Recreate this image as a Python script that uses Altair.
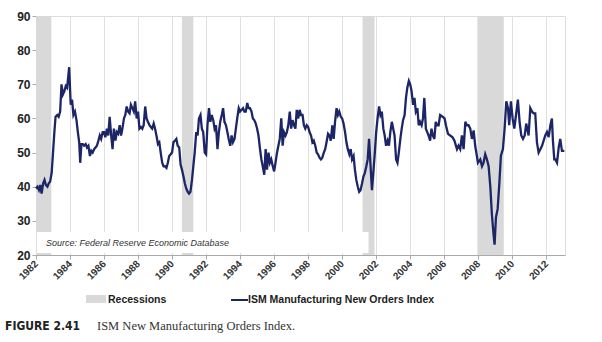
import altair as alt
import pandas as pd

# ISM Manufacturing New Orders Index (decimal years)
t = [1982.00, 1982.08, 1982.17, 1982.25, 1982.33, 1982.42, 1982.50, 1982.58, 1982.67, 1982.75,
     1982.83, 1982.92, 1983.00, 1983.08, 1983.15, 1983.25, 1983.33, 1983.42, 1983.50, 1983.58,
     1983.67, 1983.75, 1983.83, 1983.95, 1984.04, 1984.12, 1984.20, 1984.29, 1984.38, 1984.46,
     1984.54, 1984.60, 1984.67, 1984.75, 1984.83, 1984.92, 1985.00, 1985.08, 1985.17, 1985.25,
     1985.33, 1985.42, 1985.50, 1985.58, 1985.67, 1985.75, 1985.83, 1985.92, 1986.00, 1986.08,
     1986.17, 1986.25, 1986.33, 1986.42, 1986.50, 1986.58, 1986.67, 1986.75, 1986.83, 1986.92,
     1987.00, 1987.08, 1987.17, 1987.25, 1987.33, 1987.42, 1987.50, 1987.58, 1987.67, 1987.75,
     1987.83, 1987.92, 1988.00, 1988.08, 1988.17, 1988.25, 1988.33, 1988.42, 1988.50, 1988.58,
     1988.67, 1988.75, 1988.83, 1988.92, 1989.00, 1989.08, 1989.17, 1989.25, 1989.33, 1989.42,
     1989.50, 1989.58, 1989.67, 1989.75, 1989.83, 1989.92, 1990.00, 1990.08, 1990.17, 1990.25,
     1990.33, 1990.42, 1990.50, 1990.58, 1990.67, 1990.75, 1990.83, 1990.92, 1991.00, 1991.08,
     1991.17, 1991.25, 1991.33, 1991.42, 1991.50, 1991.58, 1991.67, 1991.75, 1991.83, 1991.92,
     1992.00, 1992.08, 1992.17, 1992.25, 1992.33, 1992.42, 1992.50, 1992.58, 1992.67, 1992.75,
     1992.83, 1992.92, 1993.00, 1993.08, 1993.17, 1993.25, 1993.33, 1993.42, 1993.50, 1993.58,
     1993.67, 1993.75, 1993.83, 1993.92, 1994.00, 1994.08, 1994.17, 1994.25, 1994.33, 1994.42,
     1994.50, 1994.58, 1994.67, 1994.75, 1994.83, 1994.92, 1995.00, 1995.08, 1995.17, 1995.25,
     1995.33, 1995.42, 1995.50, 1995.58, 1995.67, 1995.75, 1995.83, 1995.92, 1996.00, 1996.08,
     1996.17, 1996.25, 1996.33, 1996.42, 1996.50, 1996.58, 1996.67, 1996.75, 1996.83, 1996.92,
     1997.00, 1997.08, 1997.17, 1997.25, 1997.33, 1997.42, 1997.50, 1997.58, 1997.67, 1997.75,
     1997.83, 1997.92, 1998.00, 1998.08, 1998.17, 1998.25, 1998.33, 1998.42, 1998.50, 1998.58,
     1998.67, 1998.75, 1998.83, 1998.92, 1999.00, 1999.08, 1999.17, 1999.25, 1999.33, 1999.42,
     1999.50, 1999.58, 1999.67, 1999.75, 1999.83, 1999.92, 2000.00, 2000.08, 2000.17, 2000.25,
     2000.33, 2000.42, 2000.50, 2000.58, 2000.67, 2000.75, 2000.83, 2000.92, 2001.00, 2001.08,
     2001.17, 2001.25, 2001.33, 2001.42, 2001.50, 2001.58, 2001.67, 2001.75, 2001.83, 2001.92,
     2002.00, 2002.08, 2002.17, 2002.25, 2002.33, 2002.42, 2002.50, 2002.58, 2002.67, 2002.75,
     2002.83, 2002.92, 2003.00, 2003.08, 2003.17, 2003.25, 2003.33, 2003.42, 2003.50, 2003.58,
     2003.67, 2003.75, 2003.83, 2003.92, 2004.00, 2004.08, 2004.17, 2004.25, 2004.33, 2004.42,
     2004.50, 2004.58, 2004.67, 2004.75, 2004.83, 2004.92, 2005.00, 2005.08, 2005.17, 2005.25,
     2005.33, 2005.42, 2005.50, 2005.58, 2005.67, 2005.76, 2005.90, 2006.02, 2006.10, 2006.22,
     2006.35, 2006.49, 2006.60, 2006.75, 2006.84, 2006.94, 2007.04, 2007.14, 2007.24, 2007.33,
     2007.43, 2007.53, 2007.63, 2007.73, 2007.82, 2007.92, 2007.98, 2008.12, 2008.22, 2008.31,
     2008.41, 2008.51, 2008.61, 2008.71, 2008.80, 2008.90, 2008.96, 2009.04, 2009.14, 2009.24,
     2009.33, 2009.45, 2009.55, 2009.65, 2009.75, 2009.82, 2009.92, 2010.02, 2010.12, 2010.22,
     2010.33, 2010.43, 2010.53, 2010.63, 2010.73, 2010.82, 2010.96, 2011.06, 2011.16, 2011.25,
     2011.35, 2011.45, 2011.55, 2011.65, 2011.75, 2011.94, 2012.04, 2012.14, 2012.24, 2012.33,
     2012.39, 2012.47, 2012.53, 2012.63, 2012.73, 2012.82, 2012.92, 2013.06]
v = [39.5, 40, 39, 40.5, 38, 41, 42, 40.5, 40, 41,
     41.5, 44, 50, 56, 60.5, 61, 60.5, 62, 70, 67,
     68, 69.5, 69, 75, 64, 65.5, 61, 62, 59.5, 56,
     53, 47, 52.5, 52.5, 52, 52.5, 51.5, 52, 49, 50.5,
     50, 51, 51.5, 52, 53.5, 55, 54, 56, 56, 54.5,
     57, 55, 60.5, 55, 51, 57, 53.5, 56, 55.5, 58,
     55, 57, 60, 61, 63.5, 62, 61.5, 64, 63, 62,
     65, 60, 62, 57, 57.5, 57, 58, 63.5, 60, 59,
     58, 57.5, 57, 58.5, 57, 55, 52.5, 53, 50, 47,
     46, 46, 45.5, 47, 49, 49.5, 50, 53, 53.5, 54,
     52, 51.5, 46.5, 45, 43, 41, 39.5, 38.5, 38, 38.5,
     42, 46, 50, 56, 55, 60, 61, 57, 56, 50,
     49.5, 58, 63, 59, 61, 59.5, 57, 58, 51, 56,
     59, 61, 63, 59, 58, 56, 54, 52, 55, 53,
     54, 57, 60, 63, 62, 62.5, 63, 62, 62, 64.5,
     63, 63, 62, 60, 59.5, 58.5, 57, 55, 51, 48,
     46, 43.5, 51, 45, 50, 47, 48, 46, 44.5, 47,
     50, 52, 54, 60, 52, 56, 55, 56, 58, 62,
     57, 59.5, 58, 57, 62.5, 60, 62.5, 61, 61, 58,
     57, 58, 57.5, 56, 55, 53, 53.5, 52, 50, 49.5,
     48.5, 48, 48.5, 50, 51, 53, 55.5, 55, 53.5, 58,
     54, 59, 63, 61, 62, 60.5, 60, 58.5, 56, 53,
     51, 49.5, 51, 48, 49, 45, 42, 40, 38.5, 39,
     41, 43, 44, 46, 48, 54, 46, 39, 44, 50,
     56, 60, 63.5, 61, 62, 57, 55, 52, 53.5, 52,
     56, 59, 57, 55, 48, 47, 50, 54, 57, 59.5,
     61, 66, 69, 71, 70, 68, 64, 66, 62, 63,
     58, 59, 58, 60, 66, 57, 56, 55, 53.5, 57,
     55, 54, 59, 58, 58, 61, 60.5, 60, 58, 55.5,
     55, 54.5, 53.5, 51, 52, 51, 55, 51, 59, 58,
     58, 57, 54, 56.5, 52, 49, 47, 48, 46, 47,
     49.5, 48, 46, 40, 32, 26, 23, 31, 33.5, 41,
     49, 51, 57, 65, 63, 58, 65, 60, 57, 61,
     65.5, 59, 55, 54, 55, 58.5, 55, 63, 62, 61.5,
     61.5, 53, 50, 51, 52, 55, 56, 54.5, 58, 60,
     53.5, 48, 48, 47, 51.5, 54, 50.5, 50.5]

rec_start = [1981.5, 1990.58, 2001.2, 2007.95]
rec_end = [1982.9, 1991.25, 2001.9, 2009.5]

x_ticks = list(range(1982, 2013, 2))
y_ticks = [20, 30, 40, 50, 60, 70, 80, 90]

legend_labels = ["Recessions", "ISM Manufacturing New Orders Index"]
source_text = "Source: Federal Reserve Economic Database"
fig_label = "FIGURE 2.41"
fig_caption = "ISM New Manufacturing Orders Index."

NAVY = "#1c2566"
SHADE = "#d9d9d9"

series = pd.DataFrame({"t": t, "v": v})
rec = pd.DataFrame({"start": rec_start, "end": rec_end})
one = pd.DataFrame({"k": [0]})

xs = alt.Scale(domain=[1982, 2013.1], nice=False, zero=False)
ys = alt.Scale(domain=[20, 90], nice=False, zero=False)

x_axis = alt.Axis(values=x_ticks, format="d", labelAngle=-45, labelAlign="right",
                  labelBaseline="middle", labelFontSize=10, labelFontWeight="bold",
                  labelColor="#333333", labelFont="Liberation Sans", labelPadding=3,
                  labelOverlap=False, labelFlush=False,
                  tickSize=4, tickColor="#aaaaaa", domainColor="#aaaaaa",
                  gridColor="#e0e0e0", title=None)
y_axis = alt.Axis(values=y_ticks, labelFontSize=12, labelFontWeight="bold",
                  labelColor="#222222", labelFont="Liberation Sans", labelPadding=2,
                  labelOverlap=False, labelFlush=False,
                  tickSize=4, tickColor="#aaaaaa", domainColor="#aaaaaa",
                  gridColor="#e0e0e0", title=None)

shade = alt.Chart(rec).mark_rect(color=SHADE, clip=True).encode(
    x=alt.X("start:Q", scale=xs, axis=x_axis),
    x2="end:Q",
    y=alt.Y(datum=20, scale=ys, axis=y_axis),
    y2=alt.datum(90),
)

box = alt.Chart(one).mark_rect(color="white").encode(
    x=alt.X(datum=1982.05, scale=xs, axis=x_axis), x2=alt.datum(2001.55),
    y=alt.Y(datum=20.6, scale=ys, axis=y_axis), y2=alt.datum(26.7),
)

line = alt.Chart(series).mark_line(color=NAVY, strokeWidth=2.3).encode(
    x=alt.X("t:Q", scale=xs, axis=x_axis),
    y=alt.Y("v:Q", scale=ys, axis=y_axis),
)

src = alt.Chart(one).mark_text(align="left", baseline="middle", fontSize=9,
                               fontStyle="italic", font="Liberation Sans",
                               color="#333333", text=source_text).encode(
    x=alt.value(10), y=alt.value(227))

leg_rect = alt.Chart(one).mark_rect(color=SHADE).encode(
    x=alt.value(50), x2=alt.value(70), y=alt.value(279), y2=alt.value(287))
leg_t1 = alt.Chart(one).mark_text(align="left", baseline="middle", fontSize=10.5,
                                  fontWeight="bold", font="Liberation Sans",
                                  color="#222222", text=legend_labels[0]).encode(
    x=alt.value(72), y=alt.value(284))
leg_rule = alt.Chart(one).mark_rule(color=NAVY, strokeWidth=2).encode(
    x=alt.value(195), x2=alt.value(212), y=alt.value(284))
leg_t2 = alt.Chart(one).mark_text(align="left", baseline="middle", fontSize=10.5,
                                  fontWeight="bold", font="Liberation Sans",
                                  color="#222222", text=legend_labels[1]).encode(
    x=alt.value(212), y=alt.value(284))

cap1 = alt.Chart(one).mark_text(align="left", baseline="alphabetic", fontSize=12,
                                fontWeight="bold",
                                font="Liberation Sans Narrow, DejaVu Sans Condensed, Liberation Sans, sans-serif",
                                color="#222222", text=fig_label).encode(
    x=alt.value(-31), y=alt.value(314))
cap2 = alt.Chart(one).mark_text(align="left", baseline="alphabetic", fontSize=12.5,
                                font="Liberation Serif", color="#333333",
                                text=fig_caption).encode(
    x=alt.value(61), y=alt.value(314))

chart = alt.layer(shade, box, line, src, leg_rect, leg_t1, leg_rule, leg_t2, cap1, cap2).properties(
    width=529, height=239,
    padding={"left": 36, "top": 16, "right": 37, "bottom": 87},
    autosize=alt.AutoSizeParams(type="none"),
).configure_view(stroke=None).configure(background="white").configure_axis(labelOverlap=False)

chart.save("out.html", embed_options={"renderer": "svg", "actions": False})
